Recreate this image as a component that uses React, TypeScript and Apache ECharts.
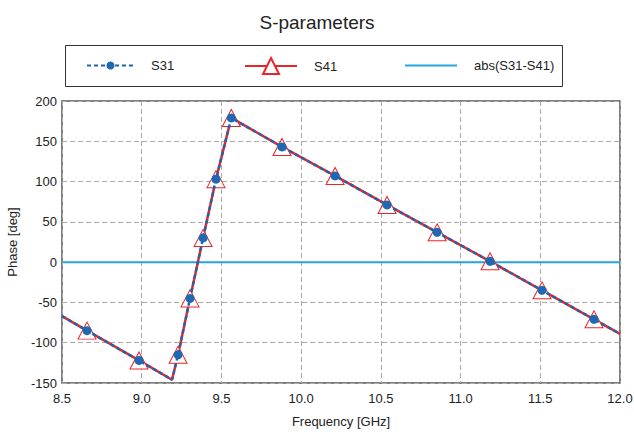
import React, { useEffect, useRef } from "react";
import * as echarts from "echarts";

const freqGHz = [8.5, 8.657, 8.983, 9.19, 9.228, 9.303, 9.385, 9.466, 9.562, 9.88, 10.213, 10.539, 10.853, 11.185, 11.511, 11.837, 12.0];
const s31Phase = [-67, -85, -122, -146, -115, -45, 30, 103, 179, 143, 107, 71, 37, 1, -35, -71, -89];
const s41Phase = [-67, -85, -122, -146, -115, -45, 30, 103, 179, 143, 107, 71, 37, 1, -35, -71, -89];
const markerIdx = [1, 2, 4, 5, 6, 7, 8, 9, 10, 11, 12, 13, 14, 15];
const absFreq = [8.5, 12.0];
const absDiff = [0, 0];
const legendNames = ["S31", "S41", "abs(S31-S41)"];

const seriesData = (vals: number[]) =>
  freqGHz.map((f, i) => ({
    value: [f, vals[i]],
    symbol: markerIdx.includes(i) ? undefined : "none",
  }));

export default function App() {
  const ref = useRef<HTMLDivElement>(null);
  useEffect(() => {
    if (!ref.current) return;
    const chart = echarts.init(ref.current, undefined, { renderer: "svg" });
    const font = "Liberation Sans, Arial, sans-serif";
    const legendText = { fontSize: 13, color: "#222", fontFamily: font, padding: [0, 0, 0, 12] };
    const mkLegend = (item: any, left: number, top: number, w: number, h: number) => ({
      left,
      top,
      padding: 0,
      itemWidth: w,
      itemHeight: h,
      textStyle: legendText,
      data: [item],
    });
    chart.setOption({
      animation: false,
      backgroundColor: "#ffffff",
      textStyle: { fontFamily: font },
      title: {
        text: "S-parameters",
        left: "center",
        top: 8,
        textStyle: { fontSize: 19, fontWeight: "normal", color: "#222", fontFamily: font },
      },
      graphic: [
        {
          type: "rect",
          shape: { x: 65.5, y: 45.5, width: 497, height: 41 },
          style: { fill: "none", stroke: "#333", lineWidth: 1 },
          silent: true,
        },
      ],
      legend: [
        mkLegend(legendNames[0], 86, 59, 47, 10),
        mkLegend(legendNames[1], 244, 57, 52, 20),
        mkLegend({ name: legendNames[2], icon: "rect" }, 405, 59, 52, 2),
      ],
      grid: {
        left: 62,
        right: 14,
        top: 101,
        bottom: 55,
        containLabel: false,
        outerBoundsMode: "none",
        show: true,
        borderColor: "#555",
        borderWidth: 1.5,
      },
      xAxis: {
        type: "value",
        min: 8.5,
        max: 12.0,
        interval: 0.5,
        name: "Frequency [GHz]",
        nameLocation: "middle",
        nameGap: 32,
        nameTextStyle: { fontSize: 13, color: "#222", fontFamily: font },
        axisLine: { show: false },
        axisTick: { show: false },
        axisLabel: {
          color: "#222",
          fontSize: 13,
          margin: 9,
          formatter: (v: number) => v.toFixed(1),
        },
        splitLine: { show: true, lineStyle: { type: [5, 3], color: "#aaa", width: 1 } },
      },
      yAxis: {
        type: "value",
        min: -150,
        max: 200,
        interval: 50,
        name: "Phase [deg]",
        nameLocation: "middle",
        nameGap: 43,
        nameRotate: 90,
        nameTextStyle: { fontSize: 13, color: "#222", fontFamily: font },
        axisLine: { show: false },
        axisTick: { show: false },
        axisLabel: { color: "#222", fontSize: 13, margin: 5 },
        splitLine: { show: true, lineStyle: { type: [5, 3], color: "#aaa", width: 1 } },
      },
      series: [
        {
          name: legendNames[2],
          type: "line",
          data: absFreq.map((f, i) => [f, absDiff[i]]),
          symbol: "none",
          lineStyle: { color: "#29a3dc", width: 2 },
          itemStyle: { color: "#29a3dc" },
          z: 2,
        },
        {
          name: legendNames[1],
          type: "line",
          data: seriesData(s41Phase),
          symbol: "triangle",
          symbolSize: [18, 17],
          lineStyle: { color: "#e8262a", width: 2.5 },
          itemStyle: { color: "#ffffff", borderColor: "#e8262a", borderWidth: 1, opacity: 1 },
          z: 3,
        },
        {
          name: legendNames[0],
          type: "line",
          data: seriesData(s31Phase),
          symbol: "circle",
          symbolSize: 9,
          lineStyle: { color: "#1f64ad", width: 2.5, type: [4, 3] },
          itemStyle: { color: "#1f68b3", borderWidth: 0 },
          z: 4,
        },
      ],
    });
    return () => chart.dispose();
  }, []);
  return <div ref={ref} style={{ position: "fixed", left: 0, top: 0, width: 634, height: 438 }} />;
}
